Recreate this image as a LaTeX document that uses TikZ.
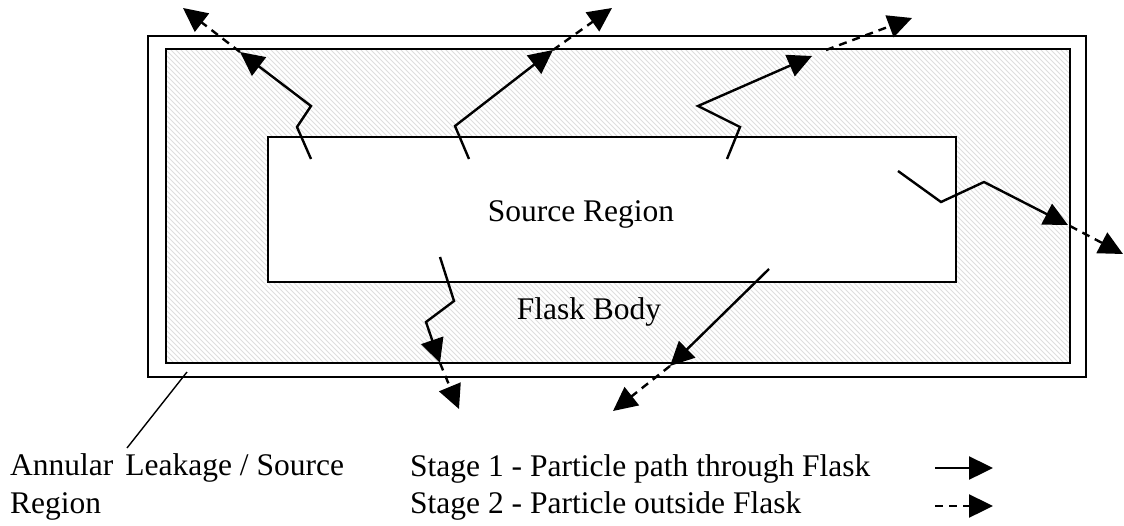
\documentclass[tikz,border=0pt]{standalone}
\usepackage{fontspec}
\setmainfont{Liberation Serif}
\usetikzlibrary{arrows.meta}
\tikzset{
  wall/.style={line width=2.4pt},
  hatchline/.style={black!13, line width=1pt},
  track/.style={line width=2.4pt, line join=miter, -{Triangle[length=24pt,width=23pt]}},
  escape/.style={line width=2.4pt, dash pattern=on 8pt off 6pt, -{Triangle[length=24pt,width=23pt]}},
  lbl/.style={font=\fontsize{31.5}{38}\selectfont, inner sep=0pt},
  leader/.style={line width=1.4pt},
}
\begin{document}
\begin{tikzpicture}[x=1pt, y=-1pt]
\useasboundingbox (0,0) rectangle (1124,525);

% flask geometry
\coordinate (outerNW) at (148,36);
\coordinate (outerSE) at (1086,377);
\coordinate (bodyNW) at (166,49);
\coordinate (bodySE) at (1070,363);
\coordinate (srcNW) at (268,137);
\coordinate (srcSE) at (956,282);

% hatched flask body
\begin{scope}
  \clip (bodyNW) rectangle (bodySE);
  \foreach \x in {-330,-325,...,1070}
    \draw[hatchline] (\x,49) -- ++(330,330);
\end{scope}
\fill[white] (srcNW) rectangle (srcSE);

\draw[wall] (outerNW) rectangle (outerSE);
\draw[wall] (bodyNW) rectangle (bodySE);
\draw[wall] (srcNW) rectangle (srcSE);

% particle tracks: stage 1 inside the flask
\coordinate (a1) at (311,159); \coordinate (a2) at (297,127);
\coordinate (a3) at (311,106); \coordinate (a4) at (240,52);
\coordinate (a5) at (183,8);
\coordinate (b1) at (469,159); \coordinate (b2) at (455,126);
\coordinate (b3) at (553,50);  \coordinate (b4) at (612,8);
\coordinate (c1) at (727,159); \coordinate (c2) at (740,127);
\coordinate (c3) at (698,106); \coordinate (c4) at (812,56);
\coordinate (c5) at (826,50);  \coordinate (c6) at (912,18);
\coordinate (d1) at (898,171); \coordinate (d2) at (941,202);
\coordinate (d3) at (984,182); \coordinate (d4) at (1068,225);
\coordinate (d5) at (1070,226); \coordinate (d6) at (1123,254);
\coordinate (e1) at (440,257); \coordinate (e2) at (454,301);
\coordinate (e3) at (426,322); \coordinate (e4) at (440,363);
\coordinate (e5) at (459,409);
\coordinate (f1) at (769,269); \coordinate (f2) at (670,366);
\coordinate (f3) at (613,411);

\draw[track] (a1) -- (a2) -- (a3) -- (a4);
\draw[track] (b1) -- (b2) -- (b3);
\draw[track] (c1) -- (c2) -- (c3) -- (c4);
\draw[track] (d1) -- (d2) -- (d3) -- (d4);
\draw[track] (e1) -- (e2) -- (e3) -- (e4);
\draw[track] (f1) -- (f2);

% stage 2: outside the flask
\draw[escape] (a4) -- (a5);
\draw[escape] (b3) -- (b4);
\draw[escape] (c5) -- (c6);
\draw[escape] (d5) -- (d6);
\draw[escape] (e4) -- (e5);
\draw[escape] (f2) -- (f3);

% labels
\node[lbl, anchor=base] (srclbl) at (581,221) {Source Region};
\node[lbl, anchor=base] (bodylbl) at (589,319) {Flask Body};
\node[lbl, anchor=base west] (ann1) at (10,475) {Annular\hspace{12pt}Leakage / Source};
\node[lbl, anchor=base west] (ann2) at (10,513) {Region};
\coordinate (leadTip) at (187,372);
\coordinate (leadFoot) at (127,448);
\draw[leader] (leadFoot) -- (leadTip);

% legend
\node[lbl, anchor=base west] (leg1) at (410,476) {Stage 1 - Particle path through Flask};
\node[lbl, anchor=base west] (leg2) at (410,513) {Stage 2 - Particle outside Flask};
\coordinate (k1a) at (935,468); \coordinate (k1b) at (993,468);
\coordinate (k2a) at (935,506); \coordinate (k2b) at (993,506);
\draw[track] (k1a) -- (k1b);
\draw[escape] (k2a) -- (k2b);
\end{tikzpicture}
\end{document}
